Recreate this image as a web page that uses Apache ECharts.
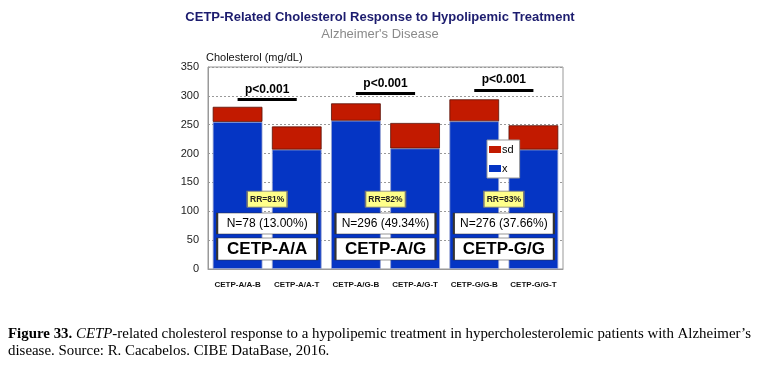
<!DOCTYPE html>
<html><head><meta charset="utf-8">
<script src="https://cdn.jsdelivr.net/npm/echarts@6/dist/echarts.min.js"></script>
<style>html,body{margin:0;padding:0;background:#fff}#c{width:760px;height:372px}</style>
</head><body><div id="c"></div>
<script>
const categories = ['CETP-A/A-B','CETP-A/A-T','CETP-A/G-B','CETP-A/G-T','CETP-G/G-B','CETP-G/G-T'];
const meanValues = [255, 207, 257, 209, 256, 207];
const sdValues = [26, 40, 30, 44, 38, 42];
const yTicks = [0, 50, 100, 150, 200, 250, 300, 350];
const groupNames = ['CETP-A/A', 'CETP-A/G', 'CETP-G/G'];
const nLabels = ['N=78 (13.00%)', 'N=296 (49.34%)', 'N=276 (37.66%)'];
const rrLabels = ['RR=81%', 'RR=82%', 'RR=83%'];
const pLabels = ['p<0.001', 'p<0.001', 'p<0.001'];

const chart = echarts.init(document.getElementById('c'), null, {renderer:'canvas'});
const groupX = [1, 3, 5];
function boxSeries(name, labels, yv, size, item, lab) {
  return {
    type: 'scatter', name: name, xAxisIndex: 1, yAxisIndex: 0, z: 10,
    symbol: 'rect', symbolSize: size, itemStyle: Object.assign({opacity: 1}, item),
    label: Object.assign({show: true, position: 'inside', formatter: p => p.data.name, fontFamily: 'Arial', color: '#000'}, lab),
    data: labels.map((t, i) => ({name: t, value: [groupX[i], yv]})),
    silent: true, tooltip: {show: false}
  };
}
const pLevels = [294, 304, 310];
const markData = pLabels.map((t, i) => [
  {coord: [categories[2*i], pLevels[i]], name: t},
  {coord: [categories[2*i+1], pLevels[i]]}
]);
chart.setOption({
  animation: false,
  title: [{
    text: 'CETP-Related Cholesterol Response to Hypolipemic Treatment',
    subtext: "Alzheimer's Disease",
    left: 'center', top: 6, itemGap: 4,
    textStyle: {fontFamily: 'Arial', fontSize: 13, fontWeight: 'bold', color: '#1c1c6e'},
    subtextStyle: {fontFamily: 'Arial', fontSize: 13, color: '#8a8a8a'}
  }, {
    text: '{b|Figure 33.} {i|CETP}-related cholesterol response to a hypolipemic treatment in hypercholesterolemic patients with Alzheimer\u2019s\ndisease. Source: R. Cacabelos. CIBE DataBase, 2016.',
    left: 3, top: 321,
    textStyle: {fontFamily: 'Liberation Serif', fontSize: 14.9, fontWeight: 'normal', color: '#000', lineHeight: 17,
      rich: {b: {fontFamily: 'Liberation Serif', fontSize: 14.9, fontWeight: 'bold', color: '#000'},
             i: {fontFamily: 'Liberation Serif', fontSize: 14.9, fontStyle: 'italic', color: '#000'}}}
  }],
  legend: {
    data: ['sd', 'x'], orient: 'vertical', left: 487, top: 140,
    backgroundColor: '#fff', borderColor: '#999', borderWidth: 1, padding: [4, 6, 4, 2],
    itemWidth: 12, itemHeight: 7, itemGap: 8, icon: 'rect',
    itemStyle: {borderWidth: 0},
    textStyle: {fontFamily: 'Arial', fontSize: 11, color: '#000', padding: [0, 0, 0, -4]}
  },
  grid: {left: 208, top: 67, right: 197, bottom: 103, show: true, borderColor: '#999', borderWidth: 1},
  xAxis: [{
    type: 'category', data: categories,
    axisLine: {lineStyle: {color: '#999'}}, axisTick: {show: false},
    axisLabel: {interval: 0, fontFamily: 'Arial', fontSize: 8, fontWeight: 'bold', color: '#111', margin: 12}
  }, {
    type: 'value', min: 0, max: 6, show: false
  }],
  yAxis: {
    type: 'value', min: yTicks[0], max: yTicks[yTicks.length-1], interval: 50,
    name: 'Cholesterol (mg/dL)', nameLocation: 'end', nameGap: 4,
    nameTextStyle: {fontFamily: 'Arial', fontSize: 11, color: '#111', align: 'left', padding: [0, 0, 0, -2]},
    axisLine: {show: true, lineStyle: {color: '#999'}}, axisTick: {show: false},
    axisLabel: {fontFamily: 'Arial', fontSize: 11, color: '#222', margin: 9},
    splitLine: {lineStyle: {color: '#999', type: [2, 2]}}
  },
  series: [{
    type: 'bar', name: 'x', stack: 't', data: meanValues, barCategoryGap: '16%',
    itemStyle: {color: '#0535c4', borderColor: '#9aa6d0', borderWidth: 0.8}
  }, {
    type: 'bar', name: 'sd', stack: 't', data: sdValues,
    itemStyle: {color: '#c21a00', borderColor: '#5a1206', borderWidth: 0.8},
    markLine: {
      symbol: 'none', silent: true,
      lineStyle: {color: '#000', width: 3, type: 'solid'},
      label: {show: true, position: 'middle', formatter: p => p.name, fontFamily: 'Arial', fontSize: 12, fontWeight: 'bold', color: '#000', distance: 4},
      data: markData
    }
  },
  boxSeries('rr', rrLabels, 121, [40, 16], {color: '#ffff8a', borderColor: '#777', borderWidth: 1}, {fontSize: 8.5, fontWeight: 'bold', color: '#222'}),
  boxSeries('n', nLabels, 79, [100, 21], {color: '#fff', borderColor: '#333', borderWidth: 1}, {fontSize: 12}),
  boxSeries('g', groupNames, 34.5, [100, 22], {color: '#fff', borderColor: '#333', borderWidth: 1}, {fontSize: 17, fontWeight: 'bold'})
  ]
});
</script></body></html>
